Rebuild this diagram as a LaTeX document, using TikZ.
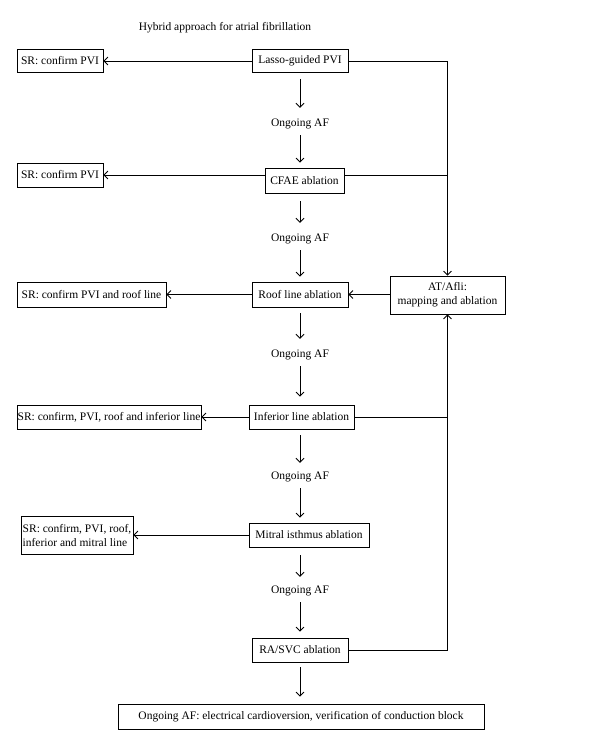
\documentclass[tikz,border=0pt]{standalone}
\usepackage{fontspec}
\setmainfont{Liberation Serif}
\usetikzlibrary{arrows.meta}
\begin{document}
\begin{tikzpicture}[x=1pt,y=-1pt,
  font=\fontsize{11.5}{14}\selectfont,
  box/.style={draw, line width=0.8pt, inner sep=0pt, align=center},
  lbl/.style={inner sep=0pt, minimum height=22pt},
  con/.style={line width=0.8pt},
  arr/.style={con, -{Straight Barb[length=4pt,width=8pt]}}
]
\useasboundingbox (0,0) rectangle (600,750);
\node[inner sep=0pt] (title) at (225,28) {Hybrid approach for atrial fibrillation};

\node[box, minimum width=96pt, minimum height=23pt] (lasso) at (300,61) {Lasso-guided PVI};
\node[box, minimum width=86pt, minimum height=23pt] (sr1) at (60,61) {SR: confirm PVI};
\node[lbl] (og1) at (300,124) {Ongoing AF};
\node[box, minimum width=79pt, minimum height=25pt] (cfae) at (304.5,180.5) {CFAE ablation};
\node[box, minimum width=86pt, minimum height=24pt] (sr2) at (60,175) {SR: confirm PVI};
\node[lbl] (og2) at (300,239) {Ongoing AF};
\node[box, minimum width=96pt, minimum height=25pt] (roof) at (300,294.5) {Roof line ablation};
\node[box, minimum width=149pt, minimum height=25pt] (sr3) at (91.5,294.5) {SR: confirm PVI and roof line};
\node[box, minimum width=115pt, minimum height=38pt] (at) at (447.5,295) {AT/Afli:\\mapping and ablation};
\node[lbl] (og3) at (300,355) {Ongoing AF};
\node[box, minimum width=105pt, minimum height=24pt] (inf) at (301.5,417) {Inferior line ablation};
\node[box, minimum width=184pt, minimum height=24pt] (sr4) at (109,417) {SR: confirm, PVI, roof and inferior line};
\node[lbl] (og4) at (300,477) {Ongoing AF};
\node[box, minimum width=120pt, minimum height=24pt] (mitral) at (309,535) {Mitral isthmus ablation};
\node[box, minimum width=112pt, minimum height=38pt, align=left] (sr5) at (77,535) {SR: confirm, PVI, roof,\\inferior and mitral line};
\node[lbl] (og5) at (300,591) {Ongoing AF};
\node[box, minimum width=96pt, minimum height=24pt] (ra) at (300,650) {RA/SVC ablation};
\node[box, minimum width=366pt, minimum height=25pt] (final) at (301,716.5) {Ongoing AF: electrical cardioversion, verification of conduction block};

% vertical chain
\draw[arr, shorten <=6pt, shorten >=5pt] (lasso.south) -- (og1.north);
\draw[arr, shorten >=5pt] (og1.south) -- (og1.south |- cfae.north);
\draw[arr, shorten <=8pt, shorten >=5pt] (og2.north |- cfae.south) -- (og2.north);
\draw[arr, shorten >=5pt] (og2.south) -- (og2.south |- roof.north);
\draw[arr, shorten <=6pt, shorten >=5pt] (roof.south) -- (og3.north);
\draw[arr, shorten >=8pt] (og3.south) -- (og3.south |- inf.north);
\draw[arr, shorten <=6pt, shorten >=3pt] (og4.north |- inf.south) -- (og4.north);
\draw[arr, shorten >=5pt] (og4.south) -- (og4.south |- mitral.north);
\draw[arr, shorten <=8pt, shorten >=3pt] (og5.north |- mitral.south) -- (og5.north);
\draw[arr, shorten >=6pt] (og5.south) -- (og5.south |- ra.north);
\draw[arr, shorten <=5pt, shorten >=7pt] (ra.south) -- (final.north -| ra.south);

% left arrows
\draw[arr] (lasso.west) -- (sr1.east);
\draw[arr] (sr2.east -| cfae.west) -- (sr2.east);
\draw[arr] (roof.west) -- (sr3.east);
\draw[arr] (inf.west) -- (sr4.east);
\draw[arr] (mitral.west) -- (sr5.east);

% right loop
\draw[arr] (lasso.east) -- (lasso.east -| at.north) -- (at.north);
\draw[con] (sr2.east -| cfae.east) -- (sr2.east -| at.north);
\draw[arr] (at.west |- roof.east) -- (roof.east);
\draw[con] (inf.east) -- (inf.east -| at.south);
\draw[arr] (ra.east) -- (ra.east -| at.south) -- (at.south);
\end{tikzpicture}
\end{document}
